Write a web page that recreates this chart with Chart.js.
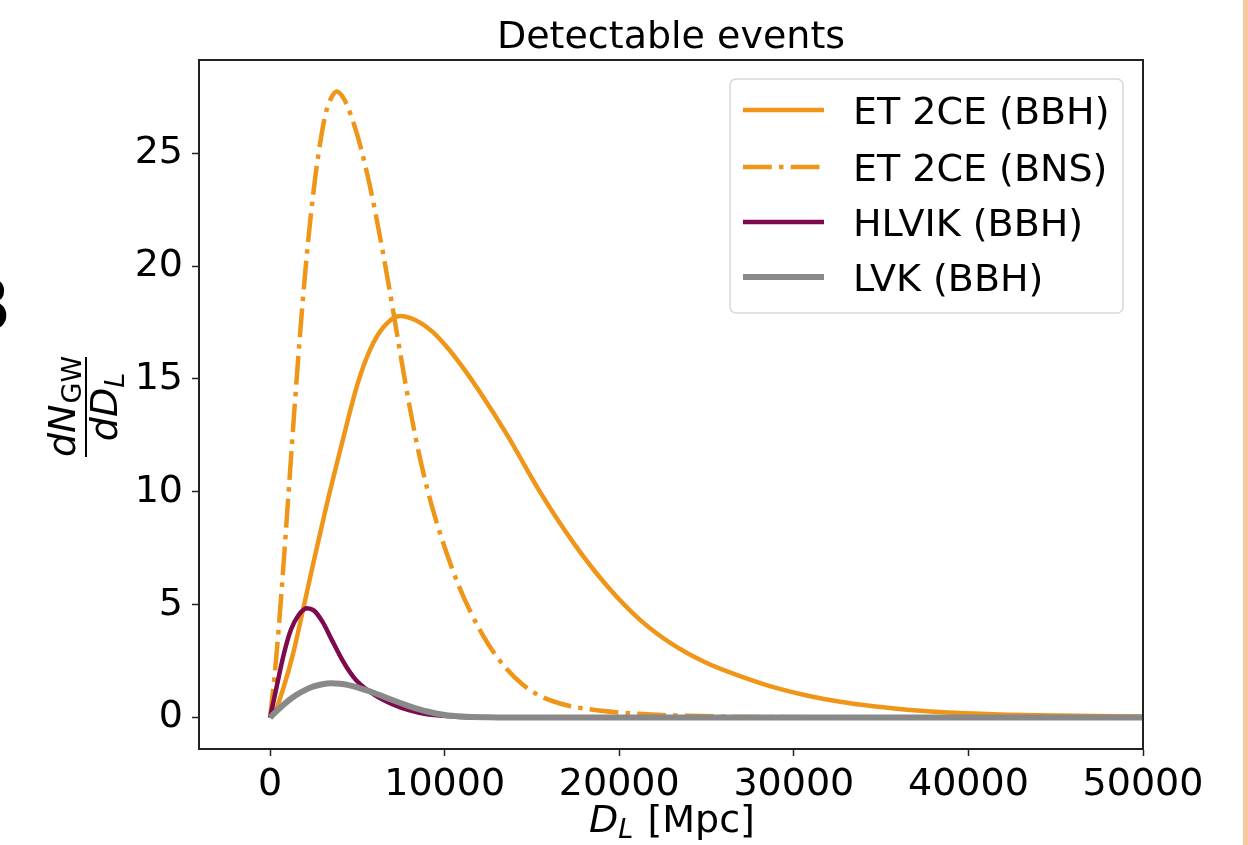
<!DOCTYPE html>
<html>
<head>
<meta charset="utf-8">
<script src="https://cdn.jsdelivr.net/npm/chart.js@4.4.1/dist/chart.umd.min.js"></script>
<style>
  html, body { margin: 0; padding: 0; background: #fff; }
</style>
</head>
<body>
<canvas id="gwChart" width="1248" height="845"></canvas>
<script>
// series names (legend order)
const seriesNames = ['ET 2CE (BBH)', 'ET 2CE (BNS)', 'HLVIK (BBH)', 'LVK (BBH)'];

// ET 2CE (BBH) - solid orange
const bbhEtX = [0, 380, 760, 1340, 1910, 2480, 3250, 4200, 5000, 5730, 6500, 7450, 8400, 9300, 10200, 11100, 12000, 13560, 15460, 17370, 19280, 21190, 23100, 25010, 26920, 28830, 30740, 32650, 34560, 36470, 38380, 40290, 42200, 45000, 50000];
const bbhEtY = [0, 0.45, 1.3, 2.9, 4.85, 6.85, 9.45, 12.4, 14.75, 16.3, 17.3, 17.79, 17.58, 17.1, 16.35, 15.45, 14.45, 12.55, 10.0, 7.75, 5.85, 4.33, 3.22, 2.42, 1.84, 1.35, 0.98, 0.7, 0.5, 0.35, 0.25, 0.18, 0.13, 0.09, 0.05];

// ET 2CE (BNS) - dash-dot orange
const bnsEtX = [0, 250, 500, 800, 1100, 1400, 1700, 2000, 2300, 2600, 2900, 3200, 3500, 3820, 4200, 4600, 5000, 5500, 6000, 6500, 7000, 7500, 8000, 8500, 9000, 9500, 10000, 10750, 11500, 12500, 13500, 14500, 15500, 17000, 19000, 21000, 24000, 28000, 35000, 50000];
const bnsEtY = [0, 1.8, 4.0, 7.1, 10.4, 13.7, 16.8, 19.6, 22.0, 24.0, 25.6, 26.8, 27.45, 27.74, 27.45, 26.75, 25.8, 24.3, 22.5, 20.45, 18.25, 15.95, 13.75, 11.8, 10.15, 8.75, 7.55, 5.95, 4.65, 3.25, 2.2, 1.45, 0.95, 0.55, 0.3, 0.17, 0.08, 0.03, 0.01, 0];

// HLVIK (BBH) - purple
const hlvikX = [0, 400, 800, 1200, 1600, 2100, 2500, 3000, 3500, 4000, 4500, 5000, 6000, 7000, 8000, 9000, 10500, 12000, 50000];
const hlvikY = [0, 1.45, 2.85, 3.9, 4.5, 4.84, 4.75, 4.25, 3.5, 2.75, 2.1, 1.6, 1.0, 0.6, 0.32, 0.15, 0.05, 0.01, 0];

// LVK (BBH) - grey
const lvkX = [0, 500, 1000, 1500, 2000, 2500, 3000, 3500, 4000, 4500, 5000, 6000, 7000, 8000, 9000, 10000, 11000, 12500, 15000, 50000];
const lvkY = [0, 0.38, 0.72, 1.0, 1.22, 1.38, 1.48, 1.52, 1.5, 1.44, 1.34, 1.08, 0.78, 0.5, 0.27, 0.12, 0.05, 0.015, 0, 0];

const xTicks = [0, 10000, 20000, 30000, 40000, 50000];
const yTicks = [0, 5, 10, 15, 20, 25];

const FONT = '"DejaVu Sans", "Liberation Sans", sans-serif';
const ORANGE = '#ef9518';
const PURPLE = '#7e0a4e';
const GREY = '#898989';

function pts(xs, ys) {
    return xs.map((x, i) => ({ x: x, y: ys[i] }));
}

// legend, title, axis labels and the frame around the plot
const decorPlugin = {
    id: 'decor',
    afterDraw(chart) {
        const ctx = chart.ctx;
        const a = chart.chartArea;
        ctx.save();

        // top / right spines
        ctx.strokeStyle = '#222';
        ctx.lineWidth = 2;
        ctx.beginPath();
        ctx.moveTo(a.left, a.top);
        ctx.lineTo(a.right, a.top);
        ctx.lineTo(a.right, a.bottom);
        ctx.stroke();

        // title
        ctx.fillStyle = '#000';
        ctx.font = '38px ' + FONT;
        ctx.textAlign = 'center';
        ctx.textBaseline = 'alphabetic';
        ctx.fillText('Detectable events', (a.left + a.right) / 2, 48);

        // x label: D_L [Mpc]
        ctx.textAlign = 'left';
        const fBig = 'italic 38px ' + FONT;
        const fSub = 'italic 27px ' + FONT;
        const fReg = '38px ' + FONT;
        ctx.font = fBig; const wD = ctx.measureText('D').width;
        ctx.font = fSub; const wL = ctx.measureText('L').width;
        ctx.font = fReg; const wRest = ctx.measureText(' [Mpc]').width;
        let x0 = (a.left + a.right) / 2 - (wD + wL + wRest) / 2;
        const by = 832;
        ctx.font = fBig; ctx.fillText('D', x0, by);
        ctx.font = fSub; ctx.fillText('L', x0 + wD, by + 6);
        ctx.font = fReg; ctx.fillText(' [Mpc]', x0 + wD + wL + 2, by);

        // y label: fraction dN_GW / dD_L
        ctx.save();
        ctx.translate(86, 407);
        ctx.rotate(-Math.PI / 2);
        ctx.font = fBig; const wdN = ctx.measureText('dN').width;
        ctx.font = '27px ' + FONT; const wGW = ctx.measureText('GW').width;
        let nx = -(wdN + wGW) / 2;
        ctx.font = fBig; ctx.fillText('dN', nx, -11);
        ctx.font = '27px ' + FONT; ctx.fillText('GW', nx + wdN + 1, -5);
        ctx.font = fBig; const wdD = ctx.measureText('dD').width;
        let dx = -(wdD + wL) / 2;
        ctx.fillText('dD', dx, 31);
        ctx.font = fSub; ctx.fillText('L', dx + wdD, 38);
        ctx.strokeStyle = '#000';
        ctx.lineWidth = 2;
        ctx.beginPath();
        ctx.moveTo(-50, 0);
        ctx.lineTo(50, 0);
        ctx.stroke();
        ctx.restore();

        // legend box
        ctx.fillStyle = 'rgba(255,255,255,0.85)';
        ctx.strokeStyle = '#d8d8d8';
        ctx.lineWidth = 1.5;
        ctx.beginPath();
        ctx.roundRect(730, 79, 393, 234, 6);
        ctx.fill();
        ctx.stroke();
        const rowY = [110, 167, 222, 277];
        chart.data.datasets.forEach((ds, i) => {
            const y = rowY[i];
            ctx.strokeStyle = ds.borderColor;
            ctx.lineWidth = ds.borderWidth;
            ctx.lineCap = 'butt';
            ctx.setLineDash(ds.borderDash || []);
            ctx.beginPath();
            ctx.moveTo(743, y);
            ctx.lineTo(824, y);
            ctx.stroke();
            ctx.setLineDash([]);
            ctx.fillStyle = '#000';
            ctx.font = '38px ' + FONT;
            ctx.textAlign = 'left';
            ctx.fillText(ds.label, 853, y + 14);
        });

        // cut-off glyph on the left edge and the strip on the right edge
        ctx.fillStyle = '#000';
        ctx.font = '72px ' + FONT;
        ctx.fillText('B', -38, 330);
        ctx.fillStyle = '#f8c99c';
        ctx.fillRect(1243, 0, 5, 845);

        ctx.restore();
    }
};

const datasets = [
    { label: seriesNames[0], data: pts(bbhEtX, bbhEtY), borderColor: ORANGE, borderWidth: 4.5, order: 4 },
    { label: seriesNames[1], data: pts(bnsEtX, bnsEtY), borderColor: ORANGE, borderWidth: 4.5, borderDash: [28.8, 7.2, 4.5, 7.2], order: 3 },
    { label: seriesNames[2], data: pts(hlvikX, hlvikY), borderColor: PURPLE, borderWidth: 4.5, order: 2 },
    { label: seriesNames[3], data: pts(lvkX, lvkY), borderColor: GREY, borderWidth: 6, order: 1 }
];
datasets.forEach(d => {
    d.pointRadius = 0;
    d.fill = false;
    d.cubicInterpolationMode = 'monotone';
    d.borderCapStyle = 'butt';
});

const tickFont = { family: FONT, size: 38 };

new Chart(document.getElementById('gwChart').getContext('2d'), {
    type: 'line',
    data: { datasets: datasets },
    options: {
        responsive: false,
        animation: false,
        layout: { padding: { left: 0, right: 105, top: 60, bottom: 0 } },
        plugins: { legend: { display: false }, title: { display: false }, tooltip: { enabled: false } },
        scales: {
            x: {
                type: 'linear',
                min: -4070,
                max: 50000,
                afterBuildTicks: s => { s.ticks = xTicks.map(v => ({ value: v })); },
                afterFit: s => { s.height = 96; },
                ticks: { font: tickFont, color: '#000', padding: 6, maxRotation: 0, autoSkip: false, callback: v => String(v) },
                grid: { drawOnChartArea: false, drawTicks: true, tickLength: 7, tickColor: '#222', tickWidth: 1.5 },
                border: { display: true, color: '#222', width: 2 }
            },
            y: {
                type: 'linear',
                min: -1.39,
                max: 29.13,
                afterBuildTicks: s => { s.ticks = yTicks.map(v => ({ value: v })); },
                afterFit: s => { s.width = 199; },
                ticks: { font: tickFont, color: '#000', padding: 9, callback: v => String(v) },
                grid: { drawOnChartArea: false, drawTicks: true, tickLength: 7, tickColor: '#222', tickWidth: 1.5 },
                border: { display: true, color: '#222', width: 2 }
            }
        }
    },
    plugins: [decorPlugin]
});
</script>
</body>
</html>
